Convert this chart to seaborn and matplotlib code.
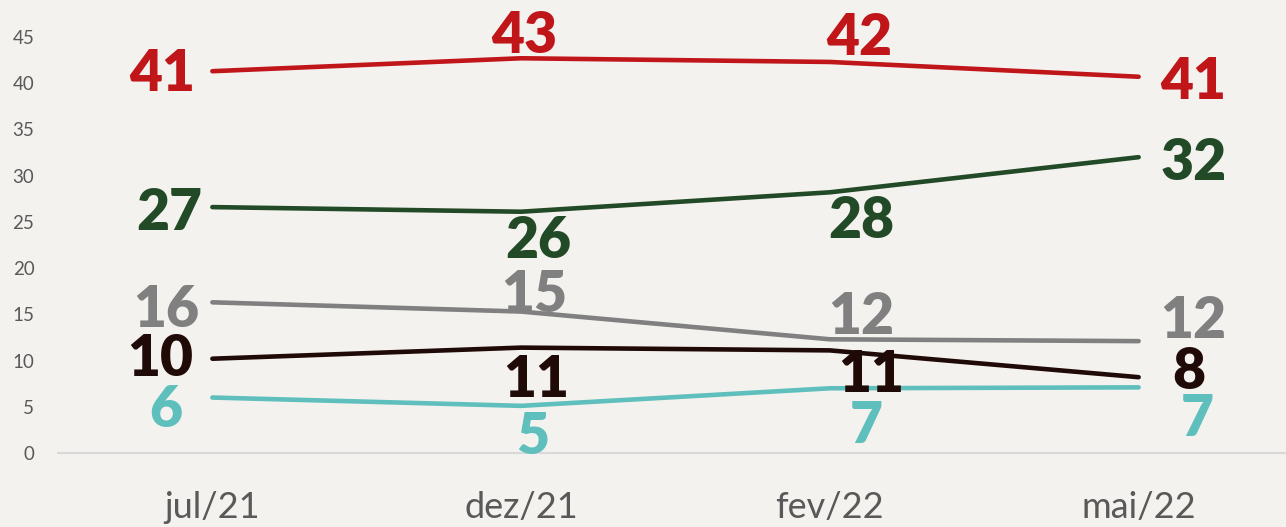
import matplotlib
matplotlib.use("Agg")
import matplotlib.pyplot as plt
import seaborn as sns
import pandas as pd
import numpy as np

# ---- data ----
periods = ["jul/21", "dez/21", "fev/22", "mai/22"]
serie_vermelha = [41.3, 42.7, 42.3, 40.7]
serie_verde = [26.6, 26.1, 28.2, 32.0]
serie_cinza = [16.3, 15.3, 12.3, 12.1]
serie_preta = [10.2, 11.4, 11.1, 8.2]
serie_azul = [6.0, 5.1, 7.0, 7.1]
y_ticks = [0, 5, 10, 15, 20, 25, 30, 35, 40, 45]

series_names = ["vermelha", "verde", "cinza", "preta", "azul"]
series_values = [serie_vermelha, serie_verde, serie_cinza, serie_preta, serie_azul]
colors = {"vermelha": "#C0161A", "verde": "#224A27", "cinza": "#808080",
          "preta": "#200A08", "azul": "#5EBFBC"}

# label offsets (pixels, label centre relative to point; +dy = downwards)
offsets = {
    "vermelha": [(-50, -1), (3, -26), (29, -27), (55, 2)],
    "verde":    [(-43, 2), (17, 26), (31, 25), (55, 2)],
    "cinza":    [(-46, 4), (13, -20), (31, -26), (55, -24)],
    "preta":    [(-52, -3), (15, 29), (41, 21), (50, -9)],
    "azul":     [(-47, 9), (12, 28), (36, 34), (59, 28)],
}

rows = []
for name, vals in zip(series_names, series_values):
    for i, (p, v) in enumerate(zip(periods, vals)):
        rows.append({"periodo": p, "pos": i, "valor": v, "serie": name})
df = pd.DataFrame(rows)

sns.set_theme(style="white")
plt.rcParams["font.family"] = ["Lato", "DejaVu Sans"]

W, H, DPI = 1286, 527, 100
bg = "#F3F2EF"
fig = plt.figure(figsize=(W / DPI, H / DPI), dpi=DPI, facecolor=bg)
left_px, right_px, bottom_px, top_px = 58, 1293, 453, 37
ax = fig.add_axes([left_px / W, 1 - bottom_px / H,
                   (right_px - left_px) / W, (bottom_px - top_px) / H])
ax.set_facecolor("none")

sns.lineplot(data=df, x="pos", y="valor", hue="serie", palette=colors,
             hue_order=series_names, linewidth=3.3, legend=False, ax=ax,
             solid_capstyle="round", solid_joinstyle="round")

ax.set_xlim(-0.5, len(periods) - 0.5)
ax.set_ylim(0, 45)
ax.set_xlabel("")
ax.set_ylabel("")

# y axis
ax.set_yticks(y_ticks)
ax.set_yticklabels([str(t) for t in y_ticks], fontsize=13.5, color="#595959")
ax.tick_params(axis="y", length=0, pad=17)

# x axis: tick marks between categories, labels at categories
ax.set_xticks(np.arange(-0.5, len(periods), 1.0))
ax.set_xticklabels([])
ax.set_xticks(np.arange(len(periods)), minor=True)
ax.set_xticklabels(periods, minor=True, fontsize=26, color="#595959")
ax.tick_params(axis="x", which="major", length=10, width=1.2, color="#D9D9D9", direction="out")
ax.tick_params(axis="x", which="minor", length=0, pad=27)

for s in ["top", "right", "left"]:
    ax.spines[s].set_visible(False)
ax.spines["bottom"].set_color("#D9D9D9")
ax.spines["bottom"].set_linewidth(1.5)

# data labels
px2pt = 72 / DPI
fs = 41
digit_half = 20.5  # half digit height in px
for name, vals in zip(series_names, series_values):
    for i, v in enumerate(vals):
        dx, dy = offsets[name][i]
        ax.annotate(f"{round(v):d}", xy=(i, v),
                    xytext=(dx * px2pt, -(dy + digit_half) * px2pt),
                    textcoords="offset points", ha="center", va="baseline",
                    fontsize=fs, fontweight="heavy", color=colors[name],
                    annotation_clip=False)

fig.savefig("out.png", dpi=DPI, facecolor=bg)
